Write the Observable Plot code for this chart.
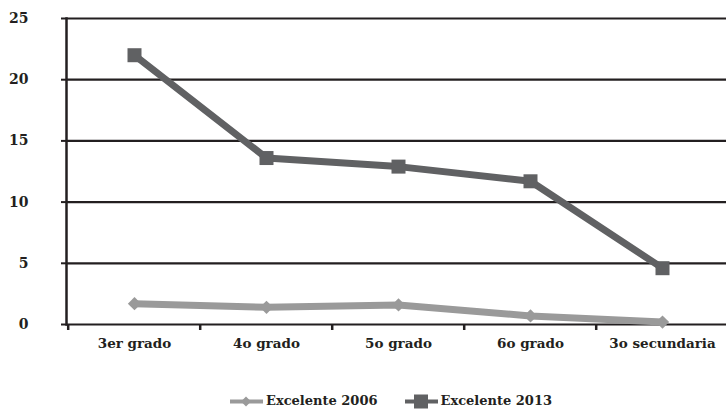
<!DOCTYPE html>
<html><head><meta charset="utf-8">
<script src="https://cdn.jsdelivr.net/npm/d3@7"></script>
<script src="https://cdn.jsdelivr.net/npm/@observablehq/plot@0.6"></script>
<style>
body{margin:0;background:#fff;}
#wrap{width:726px;height:410px;position:relative;font-family:"DejaVu Serif","Liberation Serif",serif;font-weight:bold;}
#legend{position:absolute;left:230px;top:393px;display:flex;justify-content:flex-start;gap:27px;font-size:13px;color:#231f20;}
.item{display:flex;align-items:center;gap:3px;}
svg text{font-family:"DejaVu Serif","Liberation Serif",serif;font-weight:bold;}
</style></head>
<body><div id="wrap"><div id="chart"></div><div id="legend"></div></div>
<script>
const categories = ["3er grado","4o grado","5o grado","6o grado","3o secundaria"];
const values2006 = [1.7,1.4,1.6,0.7,0.2];
const values2013 = [22.0,13.6,12.9,11.7,4.6];
const yTicks = [0,5,10,15,20,25];
const seriesNames = ["Excelente 2006","Excelente 2013"];
const colors = ["#9a9a9a","#606163"];

const data = [
  ...categories.map((c,i)=>({cat:c,v:values2006[i],s:seriesNames[0]})),
  ...categories.map((c,i)=>({cat:c,v:values2013[i],s:seriesNames[1]}))
];
const bw = (729-66)/categories.length;
const chart = Plot.plot({
  width:726, height:385,
  marginLeft:66, marginRight:0, marginTop:18, marginBottom:61,
  style:{fontSize:"14px",color:"#231f20",background:"#fff"},
  x:{type:"band",domain:categories,range:[66,729],padding:0,label:null},
  y:{domain:[0,25],range:[324,18],label:null},
  marks:[
    Plot.ruleY(yTicks,{stroke:"#231f20",strokeWidth:2.2}),
    Plot.axisY(yTicks,{tickSize:5,tickPadding:33,stroke:"#231f20",strokeWidth:2,fontSize:14,fill:"#231f20",label:null}),
    Plot.axisX({tickSize:0,tickPadding:14,fontSize:13.5,fill:"#231f20",label:null}),
    Plot.axisX({tickSize:6,text:null,dx:-bw/2,stroke:"#231f20",strokeWidth:2.5,label:null}),
    Plot.frame({anchor:"left",stroke:"#231f20",strokeWidth:2.5}),
    Plot.line(data,{x:"cat",y:"v",z:"s",stroke:"s",strokeWidth:7,strokeLinejoin:"miter"}),
    Plot.dot(data.filter(d=>d.s===seriesNames[1]),{x:"cat",y:"v",symbol:"square",r:7.9,fill:colors[1]}),
    Plot.dot(data.filter(d=>d.s===seriesNames[0]),{x:"cat",y:"v",symbol:"diamond2",r:6,fill:colors[0]})
  ],
  color:{domain:seriesNames,range:colors}
});
document.getElementById("chart").appendChild(chart);
const leg = document.getElementById("legend");
seriesNames.forEach((n,i)=>{
  const it = document.createElement("div"); it.className="item";
  const sym = i===0
    ? `<polygon points="16,0.5 21,5.5 16,10.5 11,5.5" fill="${colors[0]}"/>`
    : `<rect x="9" y="-1.5" width="14" height="14" fill="${colors[1]}"/>`;
  it.innerHTML = `<svg width="33" height="12" viewBox="0 -1 33 12" style="overflow:visible"><line x1="0" x2="33" y1="5.5" y2="5.5" stroke="${colors[i]}" stroke-width="4"/>${sym}</svg><span>${n}</span>`;
  leg.appendChild(it);
});
</script></body></html>
